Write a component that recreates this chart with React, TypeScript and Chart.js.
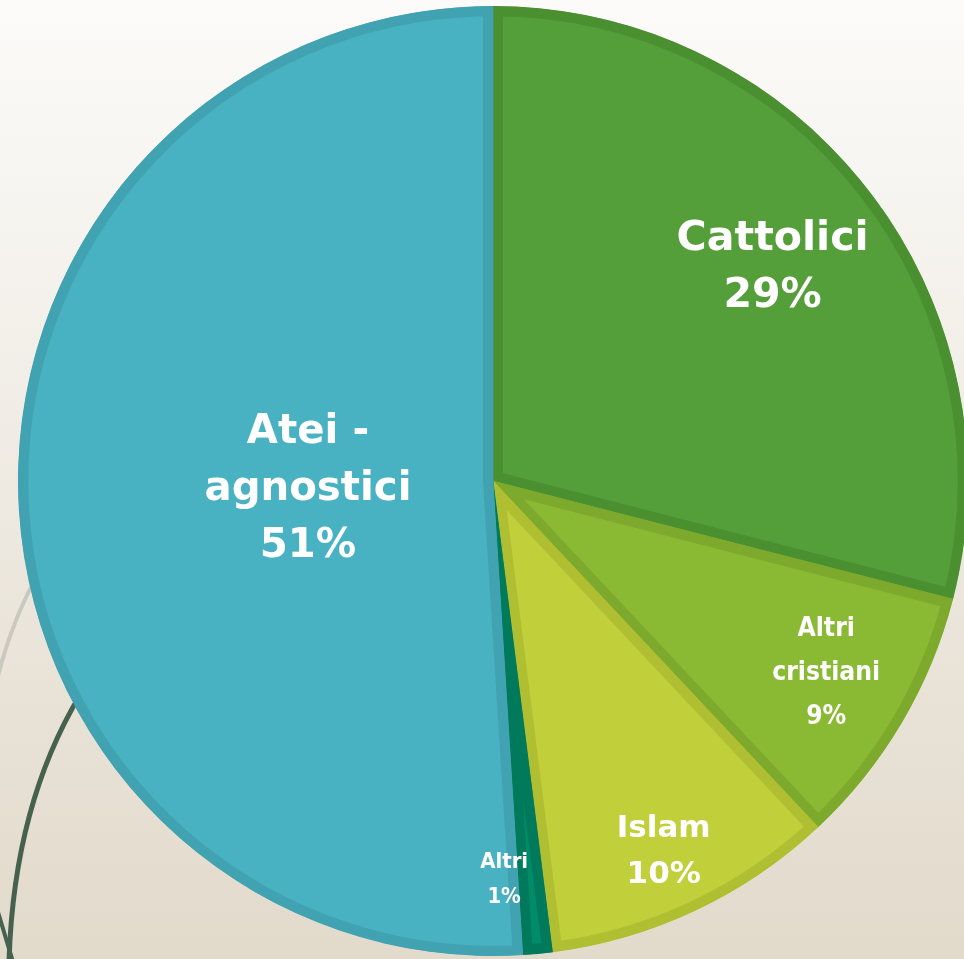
import React, { useEffect, useRef } from "react";
import { Chart, registerables } from "chart.js";

Chart.register(...registerables);

const categories = ["Cattolici", "Altri cristiani", "Islam", "Altri", "Atei - agnostici"];
const values = [29, 9, 10, 1, 51];
const labelLines = [
  ["Cattolici", "29%"],
  ["Altri", "cristiani", "9%"],
  ["Islam", "10%"],
  ["Altri", "1%"],
  ["Atei -", "agnostici", "51%"],
];
const fillColors = ["#559F3A", "#8AB934", "#C0CF3A", "#008C69", "#49B2C2"];
const borderColors = ["#4A8F30", "#7DAA2D", "#B0BE32", "#007A5A", "#41A3B2"];

// label placement: fraction of radius, angle offset (deg) from slice middle, font size, line height, target width of widest line
const labelPlacement = [
  { r: 0.74, da: 0.5, size: 40, lh: 57, w: 192 },
  { r: 0.81, da: -0.6, size: 26, lh: 44, w: 108 },
  { r: 0.86, da: 0.5, size: 31, lh: 46, w: 94 },
  { r: 0.84, da: 3.8, size: 21, lh: 35, w: 48 },
  { r: 0.39, da: -1, size: 40, lh: 57, w: 207 },
];

const CX = 493;
const CY = 481;
const R = 475;
const BW = 10;
const CANVAS_W = 990;
const CANVAS_H = 959;

const decoPlugin = {
  id: "deco",
  beforeDatasetsDraw(chart: any) {
    const ctx = chart.ctx;
    ctx.save();
    ctx.lineCap = "round";
    ctx.strokeStyle = "#C9CABD";
    ctx.lineWidth = 4;
    ctx.beginPath();
    ctx.moveTo(-2, 676);
    ctx.quadraticCurveTo(12, 620, 40, 570);
    ctx.stroke();
    ctx.strokeStyle = "#46624F";
    ctx.lineWidth = 5;
    ctx.beginPath();
    ctx.moveTo(9, 962);
    ctx.bezierCurveTo(12, 860, 35, 770, 80, 695);
    ctx.stroke();
    ctx.lineWidth = 4;
    ctx.beginPath();
    ctx.moveTo(-2, 912);
    ctx.lineTo(13, 962);
    ctx.stroke();
    ctx.restore();
  },
};

const labelPlugin = {
  id: "sliceLabels",
  afterDatasetsDraw(chart: any) {
    const ctx = chart.ctx;
    const meta = chart.getDatasetMeta(0);
    ctx.save();
    ctx.fillStyle = "#FFFFFF";
    ctx.textAlign = "center";
    ctx.textBaseline = "middle";
    meta.data.forEach((arc: any, i: number) => {
      const p = labelPlacement[i];
      const lines = labelLines[i];
      const mid = (arc.startAngle + arc.endAngle) / 2 + (p.da * Math.PI) / 180;
      const rr = arc.outerRadius * p.r;
      const x = arc.x + Math.cos(mid) * rr;
      const y = arc.y + Math.sin(mid) * rr;
      ctx.font = `bold ${p.size}px "DejaVu Sans", sans-serif`;
      const widest = Math.max(...lines.map((t: string) => ctx.measureText(t).width));
      const sx = p.w / widest;
      const total = (lines.length - 1) * p.lh;
      ctx.save();
      ctx.translate(x, y);
      ctx.scale(sx, 1);
      lines.forEach((t: string, k: number) => {
        ctx.fillText(t, 0, -total / 2 + k * p.lh);
      });
      ctx.restore();
    });
    ctx.restore();
  },
};

export default function App() {
  const ref = useRef<HTMLCanvasElement | null>(null);
  useEffect(() => {
    if (!ref.current) return;
    const side = 2 * R;
    const left = CX - R;
    const top = CY - R;
    const chart = new Chart(ref.current, {
      type: "pie",
      data: {
        labels: categories,
        datasets: [
          {
            data: values,
            backgroundColor: fillColors,
            borderColor: borderColors,
            hoverBorderColor: borderColors,
            hoverBackgroundColor: fillColors,
            borderWidth: BW,
            hoverBorderWidth: BW,
            borderAlign: "inner",
            hoverOffset: 0,
          } as any,
        ],
      },
      options: {
        responsive: false,
        animation: false,
        events: [],
        layout: {
          padding: {
            left: left,
            top: top,
            right: CANVAS_W - left - side,
            bottom: CANVAS_H - top - side,
          },
        },
        plugins: {
          legend: { display: false },
          tooltip: { enabled: false },
          title: { display: false },
        },
      },
      plugins: [decoPlugin, labelPlugin],
    });
    return () => chart.destroy();
  }, []);

  return (
    <div
      style={{
        position: "absolute",
        left: 0,
        top: 0,
        width: 964,
        height: 959,
        overflow: "hidden",
        background: "linear-gradient(to bottom, #FCFBF9 0%, #F3F0EA 35%, #E9E3D8 70%, #E2DACB 100%)",
      }}
    >
      <canvas ref={ref} width={CANVAS_W} height={CANVAS_H} style={{ display: "block" }} />
    </div>
  );
}
